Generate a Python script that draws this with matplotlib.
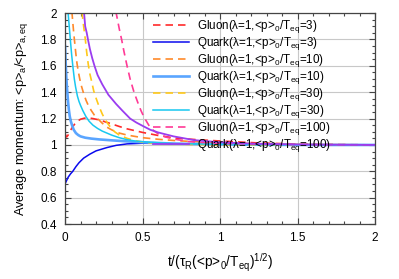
import matplotlib
matplotlib.use("Agg")
import matplotlib.pyplot as plt
from matplotlib.ticker import MultipleLocator

plt.rcParams['font.family'] = ['Liberation Sans', 'DejaVu Sans']
plt.rcParams['mathtext.fontset'] = 'custom'
plt.rcParams['mathtext.rm'] = 'Liberation Sans'
plt.rcParams['mathtext.it'] = 'Liberation Sans:italic'
plt.rcParams['font.size'] = 8.5

# values
t_g3 = [0, 0.005, 0.01, 0.02, 0.03, 0.045, 0.06, 0.08, 0.1, 0.125, 0.15, 0.18, 0.22, 0.26, 0.3,
        0.35, 0.4, 0.5, 0.6, 0.71, 0.85, 1.0, 1.25, 1.5, 2.0]
v_g3 = [1.09, 1.07, 1.06, 1.075, 1.10, 1.13, 1.155, 1.18, 1.195, 1.203, 1.205, 1.2, 1.19, 1.175, 1.16,
        1.14, 1.122, 1.095, 1.072, 1.052, 1.04, 1.03, 1.015, 1.007, 1.0]

t_q3 = [0, 0.01, 0.02, 0.035, 0.05, 0.07, 0.09, 0.12, 0.16, 0.2, 0.27, 0.33, 0.4, 0.5, 0.7, 1.0, 1.5, 2.0]
v_q3 = [0.705, 0.73, 0.755, 0.78, 0.80, 0.835, 0.865, 0.9, 0.93, 0.955, 0.98, 0.997, 1.008, 1.013, 1.01, 1.005, 1.0, 1.0]

t_g10 = [0.02, 0.025, 0.03, 0.035, 0.04, 0.045, 0.05, 0.056, 0.062, 0.07, 0.077, 0.085, 0.095, 0.105,
         0.12, 0.135, 0.15, 0.17, 0.19, 0.21, 0.24, 0.27, 0.3, 0.35, 0.4, 0.5, 0.6, 0.7, 0.8, 1.0,
         1.2, 1.5, 2.0]
v_g10 = [3.2, 2.8, 2.5, 2.3, 2.12, 2.0, 1.93, 1.85, 1.78, 1.69, 1.62, 1.56, 1.5, 1.45,
         1.39, 1.34, 1.30, 1.26, 1.225, 1.2, 1.165, 1.135, 1.115, 1.09, 1.075, 1.055, 1.043, 1.034, 1.027, 1.017,
         1.01, 1.005, 1.0]

t_q10 = [0, 0.004, 0.008, 0.012, 0.016, 0.02, 0.025, 0.03, 0.036, 0.045, 0.056, 0.07, 0.085, 0.1,
         0.13, 0.17, 0.22, 0.3, 0.4, 0.5, 0.7, 1.0, 1.5, 2.0]
v_q10 = [1.75, 1.62, 1.52, 1.44, 1.38, 1.32, 1.265, 1.22, 1.185, 1.15, 1.115, 1.09, 1.075, 1.065,
         1.055, 1.048, 1.042, 1.035, 1.027, 1.02, 1.01, 1.005, 1.0, 1.0]

t_g30 = [0.1, 0.11, 0.12, 0.131, 0.14, 0.15, 0.16, 0.17, 0.185, 0.2, 0.22, 0.24, 0.26, 0.28, 0.3,
         0.32, 0.35, 0.4, 0.45, 0.5, 0.6, 0.8, 1.0, 1.5, 2.0]
v_g30 = [2.15, 2.0, 1.9, 1.8, 1.7, 1.61, 1.54, 1.49, 1.41, 1.355, 1.29, 1.235, 1.19, 1.155, 1.125,
         1.1, 1.075, 1.05, 1.033, 1.022, 1.01, 1.004, 1.0, 1.0, 1.0]

t_q30 = [0.01, 0.02, 0.027, 0.034, 0.043, 0.052, 0.06, 0.068, 0.08, 0.09, 0.1, 0.115, 0.135, 0.155,
         0.18, 0.21, 0.24, 0.27, 0.3, 0.35, 0.4, 0.45, 0.55, 0.7, 1.0, 1.5, 2.0]
v_q30 = [2.3, 2.0, 1.9, 1.8, 1.68, 1.58, 1.5, 1.44, 1.37, 1.33, 1.3, 1.26, 1.215, 1.18,
         1.15, 1.125, 1.105, 1.09, 1.075, 1.055, 1.04, 1.03, 1.02, 1.01, 1.005, 1.0, 1.0]

t_g100 = [0.31, 0.33, 0.35, 0.365, 0.38, 0.4, 0.42, 0.445, 0.47, 0.49, 0.51, 0.54, 0.57, 0.6, 0.65,
          0.7, 0.8, 1.0, 1.3, 1.6, 2.0]
v_g100 = [2.15, 2.0, 1.88, 1.8, 1.71, 1.6, 1.5, 1.4, 1.32, 1.26, 1.21, 1.15, 1.11, 1.085, 1.06,
          1.045, 1.025, 1.012, 1.005, 1.002, 1.0]

t_q100 = [0.115, 0.123, 0.13, 0.14, 0.148, 0.16, 0.175, 0.19, 0.21, 0.24, 0.28, 0.33, 0.37, 0.42,
          0.46, 0.5, 0.55, 0.6, 0.7, 0.83, 1.0, 1.2, 1.5, 2.0]
v_q100 = [2.08, 2.0, 1.9, 1.85, 1.8, 1.73, 1.66, 1.6, 1.53, 1.46, 1.38, 1.31, 1.26, 1.2,
          1.17, 1.145, 1.115, 1.095, 1.065, 1.037, 1.02, 1.01, 1.003, 1.0]

labels = [
    'Gluon(λ=1,<p>$_0$/T$_{\\mathrm{eq}}$=3)',
    'Quark(λ=1,<p>$_0$/T$_{\\mathrm{eq}}$=3)',
    'Gluon(λ=1,<p>$_0$/T$_{\\mathrm{eq}}$=10)',
    'Quark(λ=1,<p>$_0$/T$_{\\mathrm{eq}}$=10)',
    'Gluon(λ=1,<p>$_0$/T$_{\\mathrm{eq}}$=30)',
    'Quark(λ=1,<p>$_0$/T$_{\\mathrm{eq}}$=30)',
    'Gluon(λ=1,<p>$_0$/T$_{\\mathrm{eq}}$=100)',
    'Quark(λ=1,<p>$_0$/T$_{\\mathrm{eq}}$=100)',
]
series = [(t_g3, v_g3), (t_q3, v_q3), (t_g10, v_g10), (t_q10, v_q10),
          (t_g30, v_g30), (t_q30, v_q30), (t_g100, v_g100), (t_q100, v_q100)]
colors = ['#ff2a2a', '#0a0aee', '#ff8a2a', '#5aa5ff', '#ffc81a', '#18c8f0', '#ff3a96', '#9a3cf0']
widths = [1.2, 1.1, 1.2, 1.9, 1.2, 1.1, 1.2, 1.3]
dashed = (0, (4.5, 3))

fig = plt.figure(figsize=(3.99, 2.79), dpi=100)
ax = fig.add_axes([0.163, 0.197, 0.777, 0.756])

for i, (t, v) in enumerate(series):
    ls = dashed if i % 2 == 0 else '-'
    ax.plot(t, v, color=colors[i], lw=widths[i], ls=ls, label=labels[i])

ax.set_xlim(0, 2)
ax.set_ylim(0.4, 2)
ax.xaxis.set_major_locator(MultipleLocator(0.5))
ax.xaxis.set_minor_locator(MultipleLocator(0.1))
ax.yaxis.set_major_locator(MultipleLocator(0.2))
ax.yaxis.set_minor_locator(MultipleLocator(0.05))
ax.xaxis.set_major_formatter(plt.FuncFormatter(lambda x, p: '%g' % x))
ax.yaxis.set_major_formatter(plt.FuncFormatter(lambda y, p: '%g' % round(y, 2)))
ax.tick_params(which='both', direction='in', top=True, right=True, width=0.8, color='#444444')
ax.tick_params(which='major', length=4, pad=6)
ax.tick_params(which='minor', length=2)
ax.grid(True, which='major', color='#c8c8c8', lw=0.8)
for s in ax.spines.values():
    s.set_color('#444444')
    s.set_linewidth(0.9)

ax.set_xlabel('t/(τ$_\\mathrm{R}$(<p>$_0$/T$_{\\mathrm{eq}}$)$^{1/2}$)', fontsize=9.8, labelpad=5)
ax.set_ylabel('Average momentum: <p>$_\\mathrm{a}$/<p>$_{\\mathrm{a,eq}}$', fontsize=9.2, labelpad=7)

ax.legend(loc='upper left', bbox_to_anchor=(0.284, 0.978), frameon=False, fontsize=8.4,
          handlelength=3.08, handletextpad=0.69, labelspacing=0.0, borderpad=0,
          borderaxespad=0)

fig.savefig('out.png', dpi=100)
